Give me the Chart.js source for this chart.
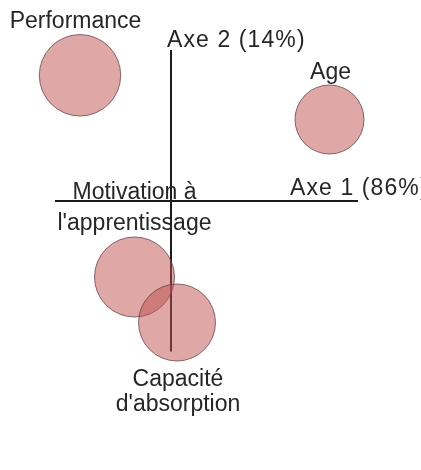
<!DOCTYPE html>
<html>
<head>
<meta charset="utf-8">
<script src="https://cdn.jsdelivr.net/npm/chart.js@4/dist/chart.umd.min.js"></script>
<style>
  html, body { margin: 0; padding: 0; background: #fff; }
  canvas { display: block; }
</style>
</head>
<body>
<canvas id="c" width="421" height="470"></canvas>
<script>
// Variables projected on the first factorial plane
const variables = ['Performance', 'Age', "Motivation à l'apprentissage", "Capacité d'absorption"];
const labelLines = [['Performance'], ['Age'], ['Motivation à', "l'apprentissage"], ['Capacité', "d'absorption"]];
const axe1 = [-0.91, 1.585, -0.365, 0.06];
const axe2 = [1.257, 0.815, -0.76, -1.215];
const poids = [40.7, 34.5, 40, 38.5];
const axisTitles = ['Axe 1 (86%)', 'Axe 2 (14%)'];
const axe1Extent = [-1.16, 1.87];
const axe2Extent = [-1.505, 1.51];

const FONT = '23px "Liberation Sans", Arial, sans-serif';
const TEXT = '#262626';

// label offsets (px) from each bubble centre: horizontal shift and line baselines
const labelPlacement = [
  { dx: -4.5, base: [-47.3] },
  { dx: 1, base: [-40.5] },
  { dx: 0, base: [-78, -47] },
  { dx: 1, base: [63.5, 88.5] }
];

const labelsPlugin = {
  id: 'planLabels',
  afterDatasetsDraw(chart) {
    const ctx = chart.ctx;
    const xs = chart.scales.x, ys = chart.scales.y;
    ctx.save();
    ctx.font = FONT;
    ctx.fillStyle = TEXT;
    ctx.textBaseline = 'alphabetic';

    // axis titles (slightly tracked out)
    ctx.textAlign = 'left';
    if ('letterSpacing' in ctx) ctx.letterSpacing = '1.1px';
    ctx.fillText(axisTitles[0], xs.getPixelForValue(axe1Extent[1]) - 68, ys.getPixelForValue(0) - 6);
    ctx.fillText(axisTitles[1], xs.getPixelForValue(0) - 4, ys.getPixelForValue(axe2Extent[1]) - 3.5);
    if ('letterSpacing' in ctx) ctx.letterSpacing = '0px';

    // variable names
    ctx.textAlign = 'center';
    labelLines.forEach((lines, i) => {
      const px = xs.getPixelForValue(axe1[i]);
      const py = ys.getPixelForValue(axe2[i]);
      const p = labelPlacement[i];
      lines.forEach((t, k) => ctx.fillText(t, px + p.dx, py + p.base[k]));
    });
    ctx.restore();
  }
};

new Chart(document.getElementById('c'), {
  data: {
    datasets: [
      {
        type: 'bubble',
        label: 'Variables',
        order: 1,
        data: variables.map((v, i) => ({ x: axe1[i], y: axe2[i], r: poids[i] })),
        backgroundColor: 'rgba(192,80,77,0.5)',
        borderColor: 'rgba(95,62,66,0.75)',
        borderWidth: 1,
        clip: false
      },
      {
        type: 'line',
        label: axisTitles[0],
        order: 2,
        data: [{ x: axe1Extent[0], y: 0 }, { x: axe1Extent[1], y: 0 }],
        borderColor: '#1c1c1c',
        borderWidth: 2,
        pointRadius: 0,
        fill: false,
        clip: false
      },
      {
        type: 'line',
        label: axisTitles[1],
        order: 2,
        data: [{ x: 0, y: axe2Extent[0] }, { x: 0, y: axe2Extent[1] }],
        borderColor: '#1c1c1c',
        borderWidth: 2,
        pointRadius: 0,
        fill: false,
        clip: false
      }
    ]
  },
  options: {
    responsive: false,
    animation: false,
    layout: { padding: 0, autoPadding: false },
    plugins: { legend: { display: false }, tooltip: { enabled: false } },
    events: [],
    scales: {
      x: { type: 'linear', display: false, min: -1.71, max: 2.5 },
      y: { type: 'linear', display: false, min: -2.69, max: 2.01 }
    }
  },
  plugins: [labelsPlugin]
});
</script>
</body>
</html>
